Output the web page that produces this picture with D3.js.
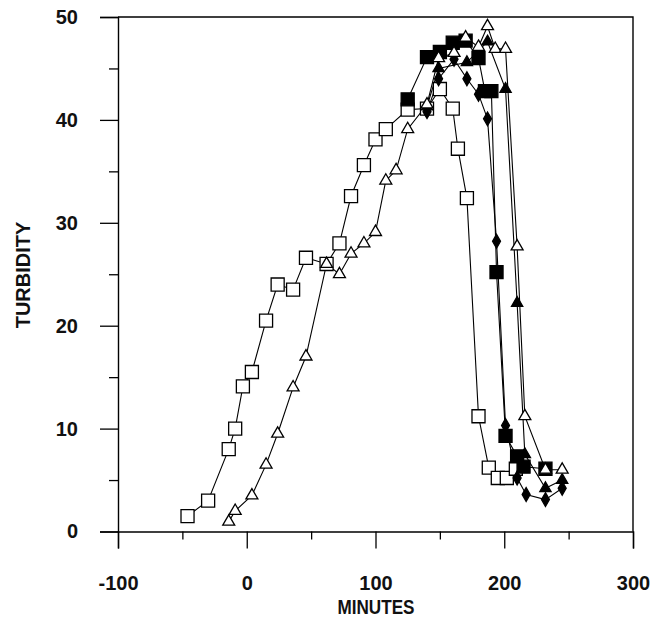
<!DOCTYPE html>
<html>
<head>
<meta charset="utf-8">
<script src="https://cdn.jsdelivr.net/npm/d3@7/dist/d3.min.js"></script>
<style>
  html, body { margin: 0; padding: 0; background: #fff; }
  svg { display: block; }
  text { font-family: "Liberation Sans", Arial, Helvetica, sans-serif; font-weight: bold; }
</style>
</head>
<body>
<svg id="chart" width="652" height="629"></svg>
<script>
// ---- data ----
const xMajorTicks = [-100, 0, 100, 200, 300];
const xMinorTicks = [-50, 50, 150, 250];
const yMajorTicks = [0, 10, 20, 30, 40, 50];
const yMinorTicks = [5, 15, 25, 35, 45];
const xTitle = "MINUTES";
const yTitle = "TURBIDITY";

const openSquareMin  = [-46, -30, -14, -9, -3, 4, 15, 24, 36, 46, 62, 72, 81, 91, 100, 108, 125, 140, 150, 160, 164, 171, 180, 188, 195, 202, 209];
const openSquareTurb = [1.5, 3.0, 8.0, 10.0, 14.1, 15.5, 20.5, 24.0, 23.5, 26.6, 26.0, 28.0, 32.6, 35.6, 38.1, 39.1, 41.0, 41.1, 43.0, 41.1, 37.2, 32.4, 11.2, 6.2, 5.2, 5.2, 6.1];

const openTriMin  = [-14, -9, 4, 15, 24, 36, 46, 62, 72, 81, 91, 100, 108, 116, 125, 140, 149, 161, 170, 180, 187, 193, 201, 210, 216, 232, 245];
const openTriTurb = [0.95, 2.0, 3.5, 6.5, 9.5, 14.0, 17.0, 26.0, 25.0, 27.0, 28.0, 29.1, 34.1, 35.1, 39.1, 41.5, 46.0, 46.5, 48.0, 47.1, 49.1, 46.9, 46.9, 27.7, 11.2, 6.0, 6.0];

const filledSquareMin  = [125, 140, 150, 160, 170, 180, 185, 190, 194, 201, 210, 215, 232];
const filledSquareTurb = [42.0, 46.1, 46.6, 47.5, 47.7, 46.0, 42.8, 42.8, 25.2, 9.3, 7.3, 6.3, 6.1];

const filledDiamondMin  = [140, 149, 161, 171, 180, 187, 194, 201, 210, 217, 232, 245];
const filledDiamondTurb = [40.8, 44.0, 45.9, 44.0, 42.5, 40.1, 28.2, 10.3, 5.2, 3.6, 3.1, 4.2];

const filledTriMin  = [140, 149, 171, 187, 201, 210, 216, 232, 245];
const filledTriTurb = [41.3, 45.0, 45.6, 47.6, 43.0, 22.2, 7.5, 4.2, 5.0];

// ---- layout ----
const svg = d3.select("#chart");
const mLeft = 118, mRight = 633, mTop = 17, mBottom = 531.5;

const x = d3.scaleLinear().domain([-100, 300]).range([mLeft, mRight]);
const y = d3.scaleLinear().domain([0, 50]).range([mBottom, mTop]);
const fmt = d => String(d);  // plain hyphen-minus

// frame (top & right)
svg.append("path")
  .attr("d", `M${mLeft},${mTop}H${mRight}V${mBottom}`)
  .attr("fill", "none").attr("stroke", "#000").attr("stroke-width", 1.4);

// axes
svg.append("g").attr("transform", `translate(${mLeft},0)`)
  .call(d3.axisLeft(y).tickValues(yMajorTicks).tickSize(18).tickPadding(22).tickFormat(fmt));
svg.append("g").attr("transform", `translate(${mLeft},0)`)
  .call(d3.axisLeft(y).tickValues(yMinorTicks).tickSize(9).tickFormat(""))
  .select(".domain").remove();

svg.append("g").attr("transform", `translate(0,${mBottom})`)
  .call(d3.axisBottom(x).tickValues(xMajorTicks).tickSize(17).tickPadding(27).tickFormat(fmt));
svg.append("g").attr("transform", `translate(0,${mBottom})`)
  .call(d3.axisBottom(x).tickValues(xMinorTicks).tickSize(8).tickFormat(""))
  .select(".domain").remove();

svg.selectAll(".domain").attr("stroke-width", 1.4);
svg.selectAll(".tick line").attr("stroke-width", 1.3);
svg.selectAll(".tick text").attr("font-size", 20).attr("fill", "#111")
  .attr("font-family", "'Liberation Sans', Arial, sans-serif").attr("font-weight", "bold");

// axis titles
svg.append("text").attr("x", 376).attr("y", 614).attr("text-anchor", "middle")
  .attr("font-size", 21).attr("fill", "#111").attr("textLength", 77).attr("lengthAdjust", "spacingAndGlyphs").text(xTitle);
svg.append("text").attr("transform", `translate(30,275) rotate(-90)`)
  .attr("text-anchor", "middle").attr("font-size", 20).attr("fill", "#111").text(yTitle);

// ---- series ----
const series = [
  { mins: openSquareMin,   turb: openSquareTurb,   sym: d3.symbolSquare,   size: 170, fill: "#fff" },
  { mins: filledSquareMin, turb: filledSquareTurb, sym: d3.symbolSquare,   size: 170, fill: "#000" },
  { mins: filledDiamondMin,turb: filledDiamondTurb,sym: d3.symbolDiamond,  size: 55,  fill: "#000" },
  { mins: filledTriMin,    turb: filledTriTurb,    sym: d3.symbolTriangle, size: 55,  fill: "#000" },
  { mins: openTriMin,      turb: openTriTurb,      sym: d3.symbolTriangle, size: 62,  fill: "#fff" }
];

const line = d3.line().x(d => x(d[0])).y(d => y(d[1]));

series.forEach(s => {
  const pts = s.mins.map((m, i) => [m, s.turb[i]]);
  svg.append("path").datum(pts).attr("d", line)
    .attr("fill", "none").attr("stroke", "#000").attr("stroke-width", 1.1);
});
series.forEach(s => {
  const pts = s.mins.map((m, i) => [m, s.turb[i]]);
  svg.append("g").selectAll("path").data(pts).join("path")
    .attr("transform", d => `translate(${x(d[0])},${y(d[1])})`)
    .attr("d", d3.symbol().type(s.sym).size(s.size))
    .attr("fill", s.fill).attr("stroke", "#000").attr("stroke-width", 1.3);
});
</script>
</body>
</html>
